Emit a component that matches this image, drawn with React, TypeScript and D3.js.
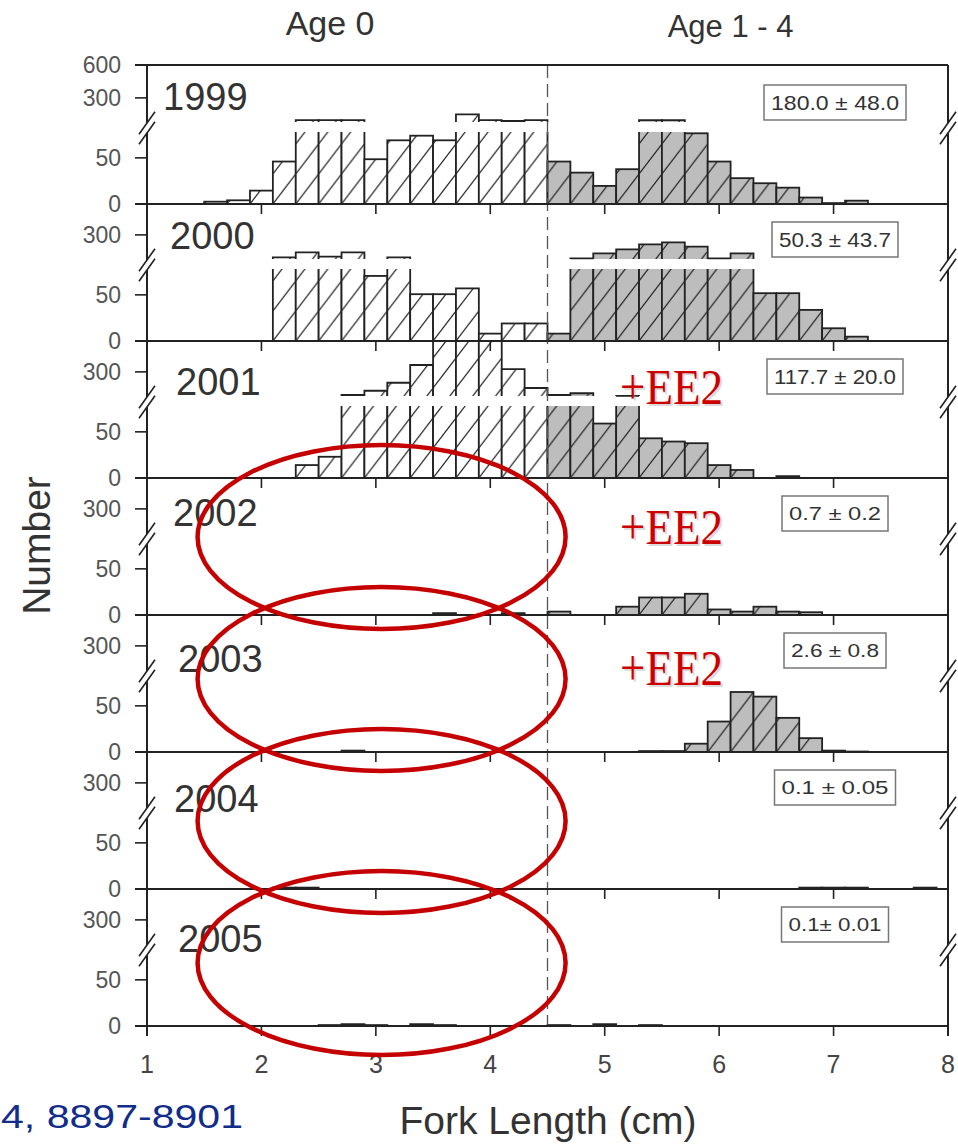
import React from "react";
import * as d3 from "d3";

// length classes (cm), each bin is 0.2 cm wide
const years = ["1999", "2000", "2001", "2002", "2003", "2004", "2005"];
const binStarts = [1.5, 1.7, 1.9, 2.1, 2.3, 2.5, 2.7, 2.9, 3.1, 3.3, 3.5, 3.7, 3.9, 4.1, 4.3, 4.5, 4.7, 4.9, 5.1, 5.3, 5.5, 5.7, 5.9, 6.1, 6.3, 6.5, 6.7, 6.9, 7.1, 7.3, 7.5, 7.7];
const binWidth = 0.2;
const ageSplit = 4.5;

const counts1999 = [2.5, 4, 14.5, 46, 98, 98, 98, 48.5, 69, 74, 69, 150, 98, 89, 98, 46, 34, 19.6, 37.7, 98, 98, 76.6, 46, 28, 22.5, 17.7, 7, 1, 3.6, 0, 0, 0];
const counts2000 = [0, 0, 0, 95.5, 141, 101, 141, 70.5, 95.5, 50.7, 50.7, 57, 8, 19, 19, 8, 86, 132, 168, 214, 232, 192, 86, 132, 51.8, 51.8, 33.7, 13.8, 4.7, 0, 0, 0];
const counts2001 = [0, 0, 0, 0, 14, 23, 89, 128, 201, 363, 600, 600, 600, 326, 153, 89, 105, 59, 82, 43, 39.5, 37.7, 14, 8.7, 0, 2, 0, 0, 0, 0, 0, 0];
const counts2002 = [0, 0, 0, 0, 0, 0, 0, 0, 0, 0, 2, 0, 0, 2, 0, 3.7, 0, 0, 9, 19, 19, 23, 6, 3.7, 9, 3.7, 3, 0, 0, 0, 0, 0];
const counts2003 = [0, 0, 0, 0, 0, 0, 1.5, 0, 0, 0, 0, 0, 0, 0, 0, 0, 0, 0, 0, 1, 1, 9, 33, 65, 60, 37, 15, 1.5, 0.5, 0, 0, 0];
const counts2004 = [0, 0, 0, 1.5, 1.5, 0, 0, 0, 0, 0, 0, 0, 0, 0, 0, 0, 0, 0, 0, 0, 0, 0, 0, 0, 0, 0, 1.5, 1.5, 1.5, 0, 0, 1.5];
const counts2005 = [0, 0, 0, 0, 0, 1, 2, 1, 0, 2, 1, 0, 0, 0, 0, 1, 0, 2, 0, 1, 0, 0, 0, 0, 0, 0, 0, 0, 0, 0, 0, 0];
const countsByYear = [counts1999, counts2000, counts2001, counts2002, counts2003, counts2004, counts2005];

const meanLabels = ["180.0 \u00b1 48.0", "50.3 \u00b1 43.7", "117.7 \u00b1 20.0", "0.7 \u00b1 0.2", "2.6 \u00b1 0.8", "0.1 \u00b1 0.05", "0.1\u00b1 0.01"];
const ee2Years = ["2001", "2002", "2003"];
const circledYears = ["2002", "2003", "2004", "2005"];
const xTicks = [1, 2, 3, 4, 5, 6, 7, 8];
const lowerTicks = [0, 50];
const upperTicks = [300];
const topTick = 600;
const lowerMax = 78;
const upperMin = 80;

// layout bits for the annotations (px)
const yearLabelPos = [[163, -94], [170, -92], [176, -83], [173, -89], [178, -80], [174, -77], [178, -74]];
const boxWidths = [142, 126, 136, 106, 102, 121, 107];
const ee2Baseline = [-74, -71, -67];
const circleCy = [537, 679, 821, 963];

const sans = "'Liberation Sans', Arial, Helvetica, sans-serif";
const ink = "#222";
const gray = "#bdbdbd";

export default function App() {
  const width = 958;
  const height = 1148;
  const x = d3.scaleLinear().domain([1, 8]).range([147, 948]);
  const panelY = d3.scalePoint<string>().domain(years).range([204, 1026]);
  const binPx = x(1 + binWidth) - x(1);
  const left = x(1);
  const right = x(8);
  const top = panelY(years[0])! - 139;
  const bottom = panelY(years[years.length - 1])!;

  const lowerScale = (y0: number) => d3.scaleLinear().domain([0, lowerMax]).range([y0, y0 - 72]);
  const upperScale = (y0: number) =>
    d3.scaleLinear().domain([upperMin, 600]).range([y0 - 82, y0 - 139]).clamp(true);

  const breakMark = (cx: number, y0: number, key: string) => {
    const s = 1.4;
    const ya = (xx: number) => y0 - 71 - (xx - cx) * s;
    const yb = (xx: number) => y0 - 81 - (xx - cx) * s;
    return (
      <g key={key}>
        <polygon
          points={`${cx - 7},${ya(cx - 7)} ${cx + 7},${ya(cx + 7)} ${cx + 7},${yb(cx + 7)} ${cx - 7},${yb(cx - 7)}`}
          fill="#fff"
        />
        <line x1={cx - 8} y1={ya(cx - 8)} x2={cx + 8} y2={ya(cx + 8)} stroke={ink} strokeWidth={1.6} />
        <line x1={cx - 8} y1={yb(cx - 8)} x2={cx + 8} y2={yb(cx + 8)} stroke={ink} strokeWidth={1.6} />
      </g>
    );
  };

  return (
    <svg
      width={width}
      height={height}
      style={{ position: "absolute", left: 0, top: 0, background: "#fff" }}
      fontFamily={sans}
    >
      <defs>
        {years.map((yr, pi) =>
          [
            ["w", "#fff"],
            ["g", gray],
          ].map(([k, bg]) => (
            <pattern
              key={`${k}${yr}`}
              id={`hatch-${k}-${pi}`}
              patternUnits="userSpaceOnUse"
              x={x(binStarts[0])}
              y={panelY(yr)!}
              width={binPx}
              height={30}
            >
              <rect width={binPx} height={30} fill={bg} />
              <line x1={-binPx} y1={60} x2={2 * binPx} y2={-30} stroke={ink} strokeWidth={1.2} />
            </pattern>
          ))
        )}
      </defs>

      {/* bars */}
      {years.map((yr, pi) => {
        const y0 = panelY(yr)!;
        const lo = lowerScale(y0);
        const up = upperScale(y0);
        const ceil = pi === 0 ? y0 - 139 : y0 - 137;
        return (
          <g key={yr}>
            {countsByYear[pi].map((v, bi) => {
              if (!v) return null;
              const b = binStarts[bi];
              const x0 = x(b);
              const x1 = x(b + binWidth);
              const fill = `url(#hatch-${b >= ageSplit - 1e-6 ? "g" : "w"}-${pi})`;
              if (v <= lowerMax) {
                const yt = lo(v);
                return (
                  <rect key={bi} x={x0} y={yt} width={x1 - x0} height={y0 - yt} fill={fill} stroke={ink} strokeWidth={1.8} />
                );
              }
              const capY = lo(lowerMax);
              const baseUp = up(upperMin);
              const yTop = Math.max(up(v), ceil);
              return (
                <g key={bi}>
                  <rect x={x0} y={capY} width={x1 - x0} height={y0 - capY} fill={fill} />
                  <path d={`M${x0},${y0}V${capY}M${x1},${y0}V${capY}`} stroke={ink} strokeWidth={1.8} fill="none" />
                  <rect x={x0} y={yTop} width={x1 - x0} height={baseUp - yTop} fill={fill} />
                  <path d={`M${x0},${baseUp}V${yTop}H${x1}V${baseUp}`} stroke={ink} strokeWidth={1.8} fill="none" />
                </g>
              );
            })}
          </g>
        );
      })}

      {/* age split */}
      <line x1={x(ageSplit)} x2={x(ageSplit)} y1={top} y2={bottom} stroke="#555" strokeWidth={1.3} strokeDasharray="13 6" />

      {/* frame */}
      <line x1={left - 12} x2={right} y1={top} y2={top} stroke={ink} strokeWidth={2} />
      <line x1={left} x2={left} y1={top} y2={bottom + 10} stroke={ink} strokeWidth={2} />
      <line x1={right} x2={right} y1={top} y2={bottom + 10} stroke={ink} strokeWidth={2} />

      {years.map((yr, pi) => {
        const y0 = panelY(yr)!;
        const lo = lowerScale(y0);
        const up = upperScale(y0);
        const ticks = lowerTicks.map((t) => ({ t, y: lo(t) })).concat(upperTicks.map((t) => ({ t, y: up(t) })));
        if (pi === 0) ticks.push({ t: topTick, y: up(topTick) });
        return (
          <g key={`ax${yr}`}>
            <line x1={left - 12} x2={right} y1={y0} y2={y0} stroke={ink} strokeWidth={2} />
            {xTicks.map((t) => (
              <line key={t} x1={x(t)} x2={x(t)} y1={y0} y2={y0 + 10} stroke={ink} strokeWidth={1.6} />
            ))}
            {ticks.map(({ t, y }) => (
              <g key={t}>
                <line x1={left - 12} x2={left} y1={y} y2={y} stroke={ink} strokeWidth={1.6} />
                <text x={121} y={y} dy="0.36em" textAnchor="end" fontSize={23} fill="#555">
                  {t}
                </text>
              </g>
            ))}
            {breakMark(left, y0, "l")}
            {breakMark(right, y0, "r")}
            <text x={yearLabelPos[pi][0]} y={y0 + yearLabelPos[pi][1]} fontSize={38} fill="#333">
              {yr}
            </text>
            <rect
              x={835 - boxWidths[pi] / 2}
              y={y0 - 119}
              width={boxWidths[pi]}
              height={35}
              fill="#fff"
              stroke="#777"
              strokeWidth={1.5}
            />
            <text
              x={835}
              y={y0 - 101.5}
              dy="0.36em"
              textAnchor="middle"
              fontSize={pi < 3 ? 21 : 19}
              fill="#333"
              textLength={boxWidths[pi] - 14}
              lengthAdjust="spacingAndGlyphs"
            >
              {meanLabels[pi]}
            </text>
          </g>
        );
      })}

      {/* bottom axis labels */}
      {xTicks.map((t) => (
        <text key={t} x={x(t)} y={bottom + 47} textAnchor="middle" fontSize={25} fill="#444">
          {t}
        </text>
      ))}
      <text x={548} y={bottom + 108} textAnchor="middle" fontSize={39} fill="#333">
        Fork Length (cm)
      </text>
      <text transform={`translate(50,${(top + bottom) / 2}) rotate(-90)`} textAnchor="middle" fontSize={39} fill="#333">
        Number
      </text>
      <text x={x(2.6)} y={35} textAnchor="middle" fontSize={34} fill="#333">
        Age 0
      </text>
      <text x={x(6.1)} y={37} textAnchor="middle" fontSize={31} fill="#333">
        Age 1 - 4
      </text>

      {/* +EE2 notes */}
      {ee2Years.map((yr, i) => {
        const y = panelY(yr)! + ee2Baseline[i];
        return (
          <g key={`ee${yr}`} fontFamily="'Liberation Serif', 'Times New Roman', serif" fontSize={50}>
            <text x={622} y={y + 2} fill="#999" opacity={0.35} textLength={103} lengthAdjust="spacingAndGlyphs">
              +EE2
            </text>
            <text x={620} y={y} fill="#cc0000" textLength={103} lengthAdjust="spacingAndGlyphs">
              +EE2
            </text>
          </g>
        );
      })}

      {/* red circles */}
      {circledYears.map((yr, i) => (
        <ellipse key={`c${yr}`} cx={x(3.05)} cy={circleCy[i]} rx={184} ry={92} fill="none" stroke="#c40000" strokeWidth={4.5} />
      ))}

      <text x={1} y={1128} fontSize={33} fill="#122c8a" textLength={242} lengthAdjust="spacingAndGlyphs">
        4, 8897-8901
      </text>
    </svg>
  );
}
